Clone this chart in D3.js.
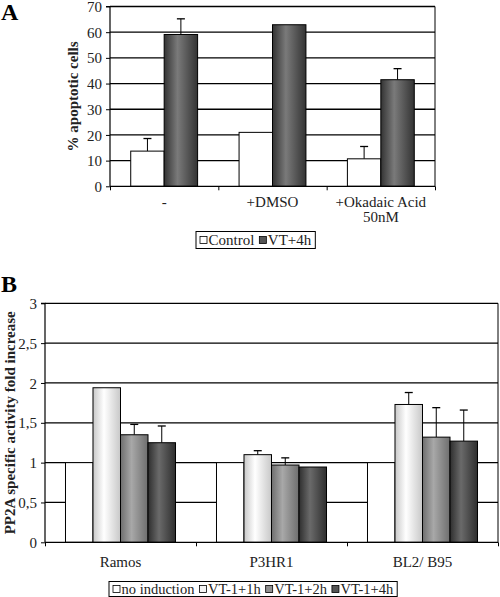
<!DOCTYPE html>
<html><head><meta charset="utf-8">
<script src="https://cdn.jsdelivr.net/npm/d3@7"></script>
<style>body{margin:0;background:#fff}svg{display:block}text{font-family:"Liberation Serif","DejaVu Serif",serif;}</style>
</head><body><svg id="c" width="500" height="597"></svg>
<script>
// Panel A data
const catsA = ["-", "+DMSO", "+Okadaic Acid|50nM"];
const seriesA = ["Control", "VT+4h"];
const valuesA = [[13.7, 59.1], [21.0, 62.9], [10.7, 41.5]];
const errA = [[18.6, 65.2], [null, null], [15.5, 45.8]];
const ticksA = [0, 10, 20, 30, 40, 50, 60, 70];

// Panel B data
const catsB = ["Ramos", "P3HR1", "BL2/ B95"];
const seriesB = ["no induction", "VT-1+1h", "VT-1+2h", "VT-1+4h"];
const valuesB = [[1, 1.94, 1.35, 1.25], [1, 1.10, 0.97, 0.945], [1, 1.73, 1.32, 1.27]];
const errB = [[null, null, 1.48, 1.46], [null, 1.15, 1.06, null], [null, 1.88, 1.69, 1.66]];
const ticksB = [0, 0.5, 1, 1.5, 2, 2.5, 3];

const FS = 15;
const svg = d3.select("#c");
const defs = svg.append("defs");
function grad(id, edge, mid) {
  const g = defs.append("linearGradient").attr("id", id).attr("x1", "0").attr("x2", "1").attr("y1", "0").attr("y2", "0");
  g.append("stop").attr("offset", "0%").attr("stop-color", edge);
  g.append("stop").attr("offset", "40%").attr("stop-color", mid);
  g.append("stop").attr("offset", "100%").attr("stop-color", edge);
}
grad("gLight", "#c8c8c8", "#ffffff");
grad("gMed", "#6e6e6e", "#a8a8a8");
grad("gDark", "#2e2e2e", "#6a6a6a");
grad("gDarkA", "#333333", "#7a7a7a");

function panel(o) {
  const g = svg.append("g");
  const x0 = d3.scaleBand().domain(o.cats.map((d, i) => i)).range([o.left, o.right]).paddingInner(0).paddingOuter(0);
  const x1 = d3.scaleBand().domain(o.series.map((d, i) => i)).range([0, x0.bandwidth()]).paddingInner(0).paddingOuter(o.outerPad);
  const y = d3.scaleLinear().domain([0, o.max]).range([o.bottom, o.top]);
  g.selectAll(".grid").data(o.ticks.filter(t => t > 0)).join("line")
    .attr("x1", o.left).attr("x2", o.right).attr("y1", d => y(d)).attr("y2", d => y(d))
    .attr("stroke", "#000").attr("stroke-width", 1.3);
  g.append("line").attr("x1", o.right).attr("x2", o.right).attr("y1", o.top).attr("y2", o.bottom).attr("stroke", "#000").attr("stroke-width", 1);
  o.values.forEach((row, ci) => {
    row.forEach((v, si) => {
      const bx = x0(ci) + x1(si);
      const e = o.errs[ci][si];
      if (e != null) {
        g.append("line").attr("x1", bx + x1.bandwidth() / 2).attr("x2", bx + x1.bandwidth() / 2)
          .attr("y1", y(v)).attr("y2", y(e)).attr("stroke", "#000").attr("stroke-width", 1);
        g.append("line").attr("x1", bx + x1.bandwidth() / 2 - 4).attr("x2", bx + x1.bandwidth() / 2 + 4)
          .attr("y1", y(e)).attr("y2", y(e)).attr("stroke", "#000").attr("stroke-width", 1.3);
      }
      g.append("rect").attr("x", bx).attr("y", y(v)).attr("width", x1.bandwidth()).attr("height", y(0) - y(v))
        .attr("fill", o.fills[si]).attr("stroke", "#000").attr("stroke-width", 1);
    });
  });
  const ya = d3.axisLeft(y).tickValues(o.ticks).tickFormat(o.fmt).tickSize(4).tickPadding(4);
  const yg = g.append("g").attr("transform", `translate(${o.left},0)`).call(ya);
  yg.attr("font-family", null);
  yg.select(".domain").attr("d", `M-4,${o.top}H0V${o.bottom}`).attr("stroke-width", 1.2);
  yg.selectAll("text").attr("font-size", FS).attr("fill", "#222").attr("dy", "0.34em");
  const xa = d3.axisBottom(d3.scaleLinear().domain([0, o.cats.length]).range([o.left, o.right])).tickValues(d3.range(o.cats.length + 1)).tickFormat("").tickSize(4);
  const xg = g.append("g").attr("transform", `translate(0,${o.bottom})`).call(xa);
  xg.select(".domain").attr("d", `M${o.left},0H${o.right}`).attr("stroke-width", 1.2);
  o.cats.forEach((c, i) => {
    const lines = c.split("|");
    lines.forEach((l, li) => {
      g.append("text").attr("x", x0(i) + x0.bandwidth() / 2).attr("y", o.bottom + o.catDy + li * 15)
        .attr("text-anchor", "middle").attr("font-size", FS).attr("fill", "#222").text(l);
    });
  });
  g.append("text").attr("transform", `translate(${o.ylabX},${(o.top + o.bottom) / 2}) rotate(-90)`)
    .attr("text-anchor", "middle").attr("font-size", o.ylabSize).attr("font-weight", "bold").attr("fill", "#222").text(o.ylabel);
  g.append("text").attr("x", 1).attr("y", o.letterY).attr("font-size", 24).attr("font-weight", "bold").text(o.letter);
  const lg = g.append("g");
  let lx = o.legX + 4;
  o.series.forEach((s, i) => {
    lg.append("rect").attr("x", lx).attr("y", o.legY + (o.legH - 7) / 2).attr("width", 7).attr("height", 7)
      .attr("fill", o.legFills[i]).attr("stroke", "#000").attr("stroke-width", 0.8);
    const t = lg.append("text").attr("x", lx + 8.5).attr("y", o.legY + o.legH / 2 + 5).attr("font-size", o.legFS).attr("fill", "#222").text(s);
    lx += 8.5 + t.node().getComputedTextLength() + o.legGap;
  });
  lg.insert("rect", ":first-child").attr("x", o.legX).attr("y", o.legY).attr("width", lx - o.legGap + 4 - o.legX).attr("height", o.legH)
    .attr("fill", "#fff").attr("stroke", "#000").attr("stroke-width", 1);
}

panel({
  cats: catsA, series: seriesA, values: valuesA, errs: errA, ticks: ticksA, max: 70,
  left: 110, right: 435, top: 6.5, bottom: 186.3, outerPad: 0.62,
  fills: ["#fff", "url(#gDarkA)"], legFills: ["#fff", "#555"],
  fmt: d3.format("d"), catDy: 21, ylabX: 78, ylabSize: 15, ylabel: "% apoptotic cells",
  letter: "A", letterY: 20, legX: 196, legY: 231.5, legH: 17, legGap: 5, legFS: 15
});
panel({
  cats: catsB, series: seriesB, values: valuesB, errs: errB, ticks: ticksB, max: 3,
  left: 45, right: 498, top: 303.3, bottom: 542.3, outerPad: 0.745,
  fills: ["#fff", "url(#gLight)", "url(#gMed)", "url(#gDark)"], legFills: ["#fff", "#f4f4f4", "#909090", "#555"],
  fmt: d => String(d).replace(".", ","), catDy: 25, ylabX: 15, ylabSize: 15, ylabel: "PP2A specific activity fold increase",
  letter: "B", letterY: 292, legX: 109, legY: 581.5, legH: 15, legGap: 5, legFS: 14.5
});
</script></body></html>
